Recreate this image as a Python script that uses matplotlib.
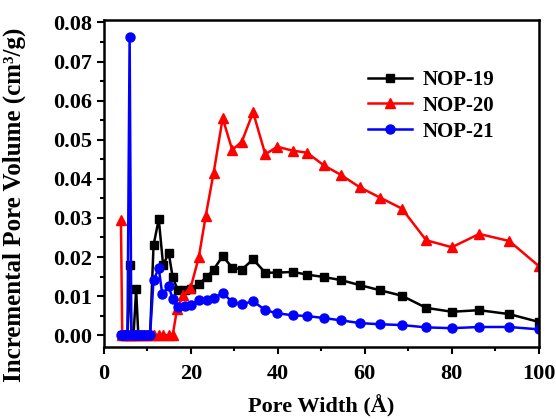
import matplotlib
matplotlib.use("Agg")
import matplotlib.pyplot as plt
from matplotlib.ticker import MultipleLocator


OUTPUT_FILE = "out.png"

# pore width (Å) for each series
x_nop19 = [4.2, 4.6, 5.0, 5.4, 5.9, 6.3, 6.8, 7.4, 7.9, 8.5, 9.2, 9.9, 10.6,
           11.4, 12.6, 13.6, 14.9, 15.8, 17.0, 18.6, 20.0, 21.8, 23.6, 25.2,
           27.3, 29.5, 31.7, 34.3, 37.1, 39.9, 43.4, 46.7, 50.5, 54.5, 58.9,
           63.5, 68.5, 74.1, 80.0, 86.3, 93.2, 100.0]
y_nop19 = [0, 0, 0, 0, 0.0180, 0, 0, 0.0117, 0, 0, 0, 0, 0,
           0.0230, 0.0297, 0.0180, 0.0210, 0.0148, 0.0115, 0.0115, 0.0118,
           0.0131, 0.0148, 0.0168, 0.0202, 0.0173, 0.0168, 0.0194, 0.0160,
           0.0160, 0.0162, 0.0155, 0.0149, 0.0141, 0.0128, 0.0115, 0.0101,
           0.0070, 0.0060, 0.0064, 0.0054, 0.0034]

x_nop20 = [3.9, 4.2, 4.6, 5.0, 5.4, 5.9, 6.3, 6.8, 7.4, 7.9, 8.5, 9.2, 9.9,
           10.6, 11.4, 12.6, 13.6, 14.9, 15.8, 16.8, 18.2, 19.9, 21.8, 23.4,
           25.2, 27.3, 29.5, 31.7, 34.3, 37.1, 39.9, 43.4, 46.7, 50.5, 54.5,
           58.9, 63.5, 68.5, 74.1, 80.0, 86.3, 93.2, 100.0]
y_nop20 = [0.0294, 0, 0, 0, 0, 0, 0, 0, 0, 0, 0, 0, 0,
           0, 0, 0, 0, 0, 0, 0.0066, 0.0102, 0.0120, 0.0199, 0.0305,
           0.0414, 0.0555, 0.0474, 0.0495, 0.0570, 0.0463, 0.0482, 0.0472,
           0.0467, 0.0435, 0.0410, 0.0378, 0.0352, 0.0324, 0.0243, 0.0225,
           0.0259, 0.0241, 0.0177]

x_nop21 = [3.9, 4.2, 4.6, 5.0, 5.4, 5.9, 6.3, 6.8, 7.4, 7.9, 8.5, 9.2, 9.9,
           10.6, 11.4, 12.6, 13.4, 14.9, 15.8, 17.0, 18.6, 20.0, 21.8, 23.6,
           25.2, 27.3, 29.5, 31.7, 34.3, 37.1, 39.9, 43.4, 46.7, 50.5, 54.5,
           58.9, 63.5, 68.5, 74.1, 80.0, 86.3, 93.2, 100.0]
y_nop21 = [0, 0, 0, 0, 0, 0.0764, 0, 0, 0, 0, 0, 0, 0,
           0, 0.0141, 0.0171, 0.0105, 0.0125, 0.0092, 0.0072, 0.0074, 0.0077,
           0.0090, 0.0091, 0.0094, 0.0108, 0.0085, 0.0079, 0.0087, 0.0064,
           0.0056, 0.0051, 0.0049, 0.0044, 0.0038, 0.0031, 0.0028, 0.0026,
           0.0020, 0.0018, 0.0021, 0.0021, 0.0015]

labels = ["NOP-19", "NOP-20", "NOP-21"]

plt.rcParams["font.family"] = ["Liberation Serif", "DejaVu Serif"]
plt.rcParams["font.weight"] = "bold"

fig = plt.figure(figsize=(5.56, 4.19), dpi=100)
ax = fig.add_axes([0.187, 0.172, 0.782, 0.780])

ax.plot(x_nop19, y_nop19, color="black", marker="s", markersize=6,
        linewidth=1.8, label=labels[0])
ax.plot(x_nop20, y_nop20, color="red", marker="^", markersize=7,
        linewidth=1.8, label=labels[1])
ax.plot(x_nop21, y_nop21, color="blue", marker="o", markersize=6.5,
        linewidth=1.8, label=labels[2])

ax.set_xlim(0, 100)
ax.set_ylim(-0.003, 0.0806)
ax.xaxis.set_major_locator(MultipleLocator(20))
ax.xaxis.set_minor_locator(MultipleLocator(10))
ax.yaxis.set_major_locator(MultipleLocator(0.01))
ax.yaxis.set_minor_locator(MultipleLocator(0.005))
ax.yaxis.set_major_formatter(plt.FuncFormatter(lambda v, p: f"{v:.2f}"))

ax.tick_params(which="both", direction="out", top=False, right=False,
               width=1.5, labelsize=16)
ax.tick_params(which="major", length=5)
ax.tick_params(which="minor", length=3)
ax.tick_params(axis="x", which="major", pad=7)
for spine in ax.spines.values():
    spine.set_linewidth(1.8)

ax.set_xlabel("Pore Width (Å)", fontsize=16, fontweight="bold", labelpad=8)
ax.set_ylabel("Incremental Pore Volume (cm³/g)", fontsize=18,
              fontweight="bold")
ax.yaxis.set_label_coords(-0.179, 0.434)

ax.legend(loc="upper right", bbox_to_anchor=(0.94, 0.905), frameon=False,
          handlelength=2.1, labelspacing=0.28, handletextpad=0.5,
          prop={"weight": "bold", "size": 15})

fig.savefig(OUTPUT_FILE, dpi=100)
plt.close(fig)
